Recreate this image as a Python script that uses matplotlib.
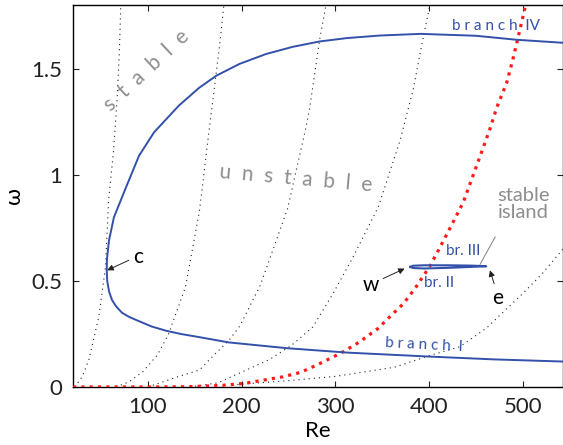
import matplotlib.pyplot as plt

plt.rcParams['font.family'] = ['Lato', 'DejaVu Sans']

# main branch (IV on top, I at the bottom), traced from the right end of IV
main_re = [543, 494, 450, 391, 347, 312, 283, 254.6, 226, 197.5, 173, 154.7, 133,
           106.5, 90.5, 76.5, 63.7, 58.4, 56.2, 56, 56.5, 58.5, 61.6, 66, 72.3, 80,
           90.5, 104, 119.4, 135, 154.7, 186.5, 248, 313, 402, 470, 543]
main_w = [1.622, 1.636, 1.655, 1.664, 1.656, 1.644, 1.628, 1.603, 1.569, 1.522, 1.467,
          1.41, 1.326, 1.20, 1.09, 0.94, 0.80, 0.69, 0.60, 0.55, 0.50, 0.45, 0.41, 0.38,
          0.35, 0.33, 0.31, 0.285, 0.265, 0.25, 0.235, 0.21, 0.183, 0.162, 0.143, 0.13, 0.12]

# stable island: br. III (upper) and br. II (lower)
isl_re = [380, 383, 395, 420, 445, 461, 445, 420, 395, 383, 380]
isl_w = [0.566, 0.5715, 0.5735, 0.5735, 0.572, 0.569, 0.566, 0.5615, 0.5585, 0.5605, 0.566]

# red dotted curve
red_re = [20, 60, 100, 140, 160, 180, 203, 224, 244, 263, 279, 306, 325, 345.6, 358,
          372.7, 385, 401, 410, 424, 436.6, 458, 465, 472.4, 483, 490, 500, 503]
red_w = [0, 0, 0, 0.001, 0.004, 0.008, 0.017, 0.033, 0.048, 0.069, 0.101, 0.16, 0.21,
         0.276, 0.33, 0.393, 0.464, 0.57, 0.644, 0.762, 0.871, 1.13, 1.216, 1.318,
         1.435, 1.553, 1.74, 1.8]

# black dotted curves
dot_re = [
    [22, 30, 37, 47.5, 54.7, 58, 63, 67, 69.5, 71],
    [66, 80, 94, 110, 122, 140, 155, 165, 172.6, 177, 181],
    [100, 133, 155, 167, 186.5, 198, 220, 249, 268, 272.5, 283, 290],
    [145, 175, 200, 230, 254, 276, 297.5, 319, 346, 369, 383, 394.5, 401],
    [190, 250, 300, 363, 402, 433, 462, 476, 500, 520, 543],
]
dot_w = [
    [0, 0.05, 0.13, 0.33, 0.565, 0.88, 1.1, 1.35, 1.58, 1.8],
    [0, 0.025, 0.07, 0.15, 0.25, 0.47, 0.83, 1.2, 1.47, 1.63, 1.8],
    [0, 0.05, 0.08, 0.135, 0.22, 0.287, 0.48, 0.84, 1.21, 1.31, 1.63, 1.8],
    [0, 0.02, 0.07, 0.13, 0.199, 0.283, 0.44, 0.613, 0.85, 1.16, 1.4, 1.663, 1.8],
    [0.01, 0.03, 0.05, 0.093, 0.15, 0.19, 0.28, 0.34, 0.44, 0.53, 0.65],
]

xticks = [100, 200, 300, 400, 500]
yticks = [0, 0.5, 1, 1.5]
ytick_labels = ['0', '0.5', '1', '1.5']

blue = '#3350aa'
gray = '#8e8e8e'

fig = plt.figure(figsize=(5.63, 4.45), dpi=100)
ax = fig.add_axes([73 / 563, 1 - 387 / 445, 490 / 563, 382 / 445])

for r, w in zip(dot_re, dot_w):
    ax.plot(r, w, color='#222222', lw=0.8, dashes=(1, 3.6))
ax.plot(red_re, red_w, color='#ff1a1a', lw=2.3, dashes=(1, 1.6), zorder=3)
ax.plot(main_re, main_w, color=blue, lw=1.4, zorder=4)
ax.plot(isl_re, isl_w, color=blue, lw=1.5, zorder=4)

ax.set_xlim(20, 543)
ax.set_ylim(0, 1.8)
ax.set_xticks(xticks)
ax.set_yticks(yticks)
ax.set_yticklabels(ytick_labels)
ax.tick_params(direction='in', top=True, right=True, length=4, width=0.8,
               labelsize=16, colors='#222222')
ax.tick_params(axis='x', pad=7)
ax.tick_params(axis='y', pad=8)
for s in ax.spines.values():
    s.set_linewidth(1.0)

ax.set_xlabel('Re', fontsize=16, labelpad=3)
ax.set_ylabel('ω', fontsize=16, labelpad=5)

# region labels
ax.text(99, 1.49, 's  t  a  b  l  e', color=gray, fontsize=15, rotation=43,
        ha='center', va='center')
ax.text(258, 0.98, 'u  n  s  t  a  b  l  e', color=gray, fontsize=15, rotation=-5,
        ha='center', va='center')
ax.text(501, 0.86, 'stable\nisland', color=gray, fontsize=14.5, ha='center',
        va='center', linespacing=1.0)
ax.plot([470.6, 454.5], [0.707, 0.578], color=gray, lw=0.8)

# branch labels
ax.text(471, 1.70, 'b r a n c h  IV', color=blue, fontsize=11, ha='center', va='center')
ax.text(395, 0.197, 'b r a n c h  I', color=blue, fontsize=11, ha='center',
        va='center', rotation=-3)
ax.text(436, 0.64, 'br. III', color=blue, fontsize=11, ha='center', va='center')
ax.text(411, 0.49, 'br. II', color=blue, fontsize=11, ha='center', va='center')

# points c, w, e
arrow = dict(arrowstyle='-|>', color='#222222', lw=0.7, mutation_scale=9,
             shrinkA=0, shrinkB=0)
ax.annotate('', xy=(56.5, 0.55), xytext=(79.5, 0.597), arrowprops=arrow)
ax.text(89, 0.613, 'c', fontsize=15, ha='center', va='center')
ax.annotate('', xy=(374, 0.558), xytext=(351, 0.511), arrowprops=arrow)
ax.text(338, 0.48, 'w', fontsize=15, ha='center', va='center')
ax.annotate('', xy=(465, 0.55), xytext=(469.5, 0.487), arrowprops=arrow)
ax.text(473, 0.42, 'e', fontsize=15, ha='center', va='center')

plt.savefig('out.png', dpi=100)
